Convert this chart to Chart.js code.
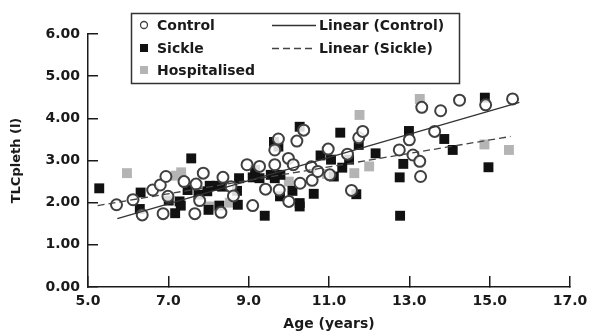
<!DOCTYPE html>
<html>
<head>
<meta charset="utf-8">
<script src="https://cdn.jsdelivr.net/npm/chart.js@4/dist/chart.umd.min.js"></script>
<style>
  html, body { margin: 0; padding: 0; background: #fff; }
  #wrap { width: 589px; height: 333px; }
</style>
</head>
<body>
<div id="wrap"><canvas id="chart" width="589" height="333"></canvas></div>
<script>
var controlAge = [5.71, 6.12, 6.35, 6.61, 6.80, 6.87, 6.94, 6.99, 7.39, 7.66, 7.69, 7.78, 7.87, 8.31, 8.36, 8.56, 8.62, 8.96,
  9.10, 9.27, 9.42, 9.65, 9.65, 9.74, 9.76, 9.99, 10.00, 10.11, 10.20, 10.28, 10.37, 10.56, 10.58, 10.72, 10.98, 11.02,
  11.46, 11.56, 11.74, 11.84, 12.75, 13.00, 13.09, 13.26, 13.28, 13.31, 13.63, 13.78, 14.25, 14.90, 15.57];
var controlTlc = [1.95, 2.07, 1.71, 2.30, 2.42, 1.74, 2.62, 2.15, 2.50, 1.74, 2.44, 2.05, 2.70, 1.77, 2.60, 2.38, 2.16, 2.90,
  1.93, 2.86, 2.32, 2.90, 3.25, 3.51, 2.30, 3.05, 2.03, 2.90, 3.46, 2.46, 3.72, 2.85, 2.53, 2.74, 3.27, 2.66,
  3.15, 2.29, 3.54, 3.69, 3.25, 3.49, 3.13, 2.98, 2.62, 4.26, 3.69, 4.18, 4.43, 4.32, 4.46];

var sickleAge = [5.28, 6.29, 6.31, 7.01, 7.17, 7.28, 7.31, 7.48, 7.57, 7.75, 7.97, 8.00, 8.03, 8.20, 8.27, 8.34, 8.71, 8.73,
  8.76, 9.10, 9.16, 9.27, 9.40, 9.55, 9.63, 9.65, 9.74, 9.79, 9.78, 10.09, 10.27, 10.27, 10.27, 10.62, 10.79, 11.05,
  11.12, 11.28, 11.33, 11.50, 11.68, 11.74, 12.16, 12.76, 12.77, 12.85, 12.99, 13.87, 14.08, 14.88, 14.97];
var sickleTlc = [2.34, 1.85, 2.24, 2.05, 1.75, 2.03, 1.93, 2.30, 3.05, 2.19, 2.27, 1.83, 2.40, 2.40, 1.93, 2.38, 2.28, 1.95,
  2.58, 2.60, 2.78, 2.58, 1.69, 2.66, 3.44, 2.58, 3.33, 2.66, 2.15, 2.28, 3.80, 1.99, 1.91, 2.21, 3.12, 3.02,
  2.62, 3.66, 2.83, 3.02, 2.20, 3.37, 3.17, 2.60, 1.69, 2.92, 3.70, 3.51, 3.25, 4.49, 2.84];

var hospAge = [5.97, 7.18, 7.32, 8.02, 8.53, 10.00, 10.95, 11.63, 11.76, 12.00, 13.26, 14.87, 15.48];
var hospTlc = [2.70, 2.64, 2.72, 1.91, 2.00, 2.50, 2.68, 2.70, 4.08, 2.86, 4.46, 3.38, 3.25];

// trend line end points (age, TLC)
var linControlAge = [5.73, 15.74];
var linControlTlc = [1.62, 4.38];
var linSickleAge = [5.24, 15.52];
var linSickleTlc = [1.93, 3.57];

var xTicks = [5, 7, 9, 11, 13, 15, 17];
var yTicks = [0, 1, 2, 3, 4, 5, 6];

function pts(xs, ys) {
  return xs.map(function (x, i) { return { x: x, y: ys[i] }; });
}

var FONT = 'DejaVu Sans';
var INK = '#1a1a1a';

// boxed two-column legend
var legendBox = {
  id: 'legendBox',
  afterDraw: function (chart) {
    var ctx = chart.ctx;
    var ds = chart.data.datasets;
    ctx.save();
    ctx.lineWidth = 1.5;
    ctx.strokeStyle = '#333';
    ctx.fillStyle = '#fff';
    ctx.fillRect(131, 13, 328, 70);
    ctx.strokeRect(131.5, 13.5, 328, 70);
    ctx.font = 'bold 14px ' + FONT;
    ctx.textBaseline = 'middle';
    var rows = [25, 48, 70];
    [0, 1, 2].forEach(function (k, r) {
      var d = ds[k];
      ctx.beginPath();
      if (d.pointStyle === 'circle') {
        ctx.fillStyle = '#fff';
        ctx.strokeStyle = d.borderColor;
        ctx.lineWidth = 1.3;
        ctx.arc(144, rows[r], 3.5, 0, Math.PI * 2);
        ctx.fill();
        ctx.stroke();
      } else {
        ctx.fillStyle = d.backgroundColor;
        ctx.fillRect(140, rows[r] - 4, 8, 8);
      }
      ctx.fillStyle = INK;
      ctx.fillText(d.label, 157, rows[r] + 1);
    });
    [3, 4].forEach(function (k, r) {
      var d = ds[k];
      ctx.save();
      ctx.strokeStyle = d.borderColor;
      ctx.lineWidth = d.borderWidth;
      ctx.setLineDash(d.borderDash || []);
      ctx.beginPath();
      ctx.moveTo(272, rows[r] + 0.5);
      ctx.lineTo(316, rows[r] + 0.5);
      ctx.stroke();
      ctx.restore();
      ctx.fillStyle = INK;
      ctx.fillText(d.label, 319, rows[r] + 1);
    });
    ctx.restore();
  }
};

function fixSize(size) {
  return function (s) {
    if (s.isHorizontal()) s.height = size; else s.width = size;
    s.paddingLeft = 0; s.paddingRight = 0;
    s.paddingTop = 0; s.paddingBottom = 0;
  };
}

new Chart(document.getElementById('chart').getContext('2d'), {
  type: 'scatter',
  data: {
    datasets: [
      {
        label: 'Control',
        data: pts(controlAge, controlTlc),
        pointStyle: 'circle',
        pointRadius: 5.5,
        backgroundColor: 'rgba(255,255,255,0.85)',
        borderColor: '#404040',
        borderWidth: 2,
        order: 3
      },
      {
        label: 'Sickle',
        data: pts(sickleAge, sickleTlc),
        pointStyle: 'rect',
        pointRadius: 7,
        backgroundColor: '#111',
        borderColor: '#111',
        borderWidth: 0,
        order: 4
      },
      {
        label: 'Hospitalised',
        data: pts(hospAge, hospTlc),
        pointStyle: 'rect',
        pointRadius: 7,
        backgroundColor: '#b4b4b4',
        borderColor: '#b4b4b4',
        borderWidth: 0,
        order: 5
      },
      {
        label: 'Linear (Control)',
        type: 'line',
        data: pts(linControlAge, linControlTlc),
        borderColor: '#333',
        borderWidth: 1.3,
        pointRadius: 0,
        fill: false,
        order: 1
      },
      {
        label: 'Linear (Sickle)',
        type: 'line',
        data: pts(linSickleAge, linSickleTlc),
        borderColor: '#444',
        borderWidth: 1.3,
        borderDash: [7, 4],
        pointRadius: 0,
        fill: false,
        order: 2
      }
    ]
  },
  options: {
    responsive: false,
    animation: false,
    layout: { padding: { left: 0, top: 34, right: 19, bottom: 0 } },
    plugins: {
      legend: { display: false },
      tooltip: { enabled: false }
    },
    scales: {
      x: {
        type: 'linear',
        min: 5,
        max: 17,
        afterBuildTicks: function (s) { s.ticks = xTicks.map(function (v) { return { value: v }; }); },
        afterFit: fixSize(46),
        // negative tick length turns the tick marks inward
        grid: { display: true, drawOnChartArea: false, drawTicks: true, tickLength: -11, color: INK, lineWidth: 1.5 },
        border: { display: true, color: INK, width: 1.5 },
        ticks: {
          padding: 17,
          color: INK,
          font: { family: FONT, size: 14, weight: 'bold' },
          maxRotation: 0,
          callback: function (v) { return v.toFixed(1); }
        },
        title: {
          display: true,
          text: 'Age (years)',
          color: INK,
          padding: { top: 0, bottom: 0 },
          font: { family: FONT, size: 14, weight: 'bold' }
        }
      },
      y: {
        type: 'linear',
        min: 0,
        max: 6,
        afterBuildTicks: function (s) { s.ticks = yTicks.map(function (v) { return { value: v }; }); },
        afterFit: fixSize(88),
        grid: { display: true, drawOnChartArea: false, drawTicks: true, tickLength: -10, color: INK, lineWidth: 1.5 },
        border: { display: true, color: INK, width: 1.5 },
        ticks: {
          padding: 18,
          color: INK,
          font: { family: FONT, size: 14, weight: 'bold' },
          callback: function (v) { return v.toFixed(2); }
        },
        title: {
          display: true,
          text: 'TLCpleth (l)',
          color: INK,
          padding: { top: 9, bottom: 0 },
          font: { family: FONT, size: 13, weight: 'bold' }
        }
      }
    }
  },
  plugins: [legendBox]
});
</script>
</body>
</html>
